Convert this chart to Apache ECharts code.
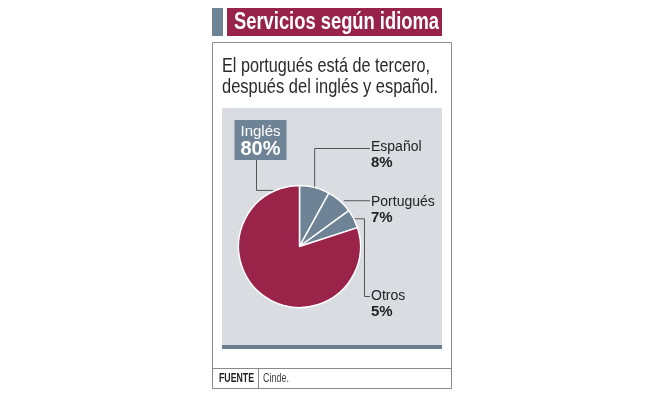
<!DOCTYPE html>
<html>
<head>
<meta charset="utf-8">
<script src="https://cdn.jsdelivr.net/npm/echarts@6/dist/echarts.min.js"></script>
<style>
  html, body { margin: 0; padding: 0; background: #fff; }
  #chart { width: 653px; height: 398px; }
</style>
</head>
<body>
<div id="chart"></div>
<script>
// datos
var idiomas = ['Español', 'Portugués', 'Otros', 'Inglés'];
var porcentajes = [8, 7, 5, 80];
var colores = ['#6f8396', '#6f8396', '#6f8396', '#9a2449'];

var titulo = 'Servicios según idioma';
var subtitulo = ['El portugués está de tercero,', 'después del inglés y español.'];
var fuente = 'Cinde.';

var FONT = "'Liberation Sans', Arial, sans-serif";
var cx = 299.5, cy = 246.5, R = 61;

// donde va cada etiqueta (x, y del texto)
var labelPos = [
  { x: 371, y: 155 },
  { x: 371, y: 210 },
  { x: 371, y: 304 },
  { x: 260.5, y: 140 }
];

// la fuente original es condensada: se comprime a lo ancho
var ctx = document.createElement('canvas').getContext('2d');
function ajustar(text, font, ancho) {
  ctx.font = font;
  return ancho / ctx.measureText(text).width;
}
function texto(x, y, text, font, ancho, color) {
  var sx = ajustar(text, font, ancho);
  return { type: 'text', x: x, y: y, scaleX: sx, style: { text: text, fill: color, font: font, verticalAlign: 'middle' } };
}

var chart = echarts.init(document.getElementById('chart'), null, { renderer: 'canvas' });

var datos = idiomas.map(function (n, i) {
  var d = { name: n, value: porcentajes[i], itemStyle: { color: colores[i] } };
  if (i === 3) {
    d.label = {
      backgroundColor: '#6f8396',
      padding: [3, 6, 1, 6],
      rich: {
        n: { fontFamily: FONT, fontSize: 15, color: '#fff', lineHeight: 17, align: 'center' },
        v: { fontFamily: FONT, fontSize: 20, fontWeight: 'bold', color: '#fff', lineHeight: 19, align: 'center' }
      }
    };
  }
  return d;
});

chart.setOption({
  animation: false,
  graphic: [
    // caja
    { type: 'rect', shape: { x: 212.5, y: 42.5, width: 239, height: 346 }, style: { fill: '#fff', stroke: '#8a8a8a', lineWidth: 1 }, z: -10 },
    // barra del titulo
    { type: 'rect', shape: { x: 212, y: 8, width: 11, height: 28 }, style: { fill: '#6f8396' } },
    { type: 'rect', shape: { x: 227, y: 8, width: 215, height: 28 }, style: { fill: '#98234a' } },
    texto(234, 23, titulo, 'bold 23px ' + FONT, 205, '#fff'),
    texto(222, 66, subtitulo[0], '21px ' + FONT, 208, '#2a2a2a'),
    texto(222, 87, subtitulo[1], '21px ' + FONT, 216, '#2a2a2a'),
    // panel gris
    { type: 'rect', shape: { x: 222, y: 108, width: 220, height: 240 }, style: { fill: '#d9dde2' }, z: -5 },
    { type: 'rect', shape: { x: 222, y: 345, width: 220, height: 4 }, style: { fill: '#6d7e8f' }, z: -4 },
    // pie de fuente
    { type: 'line', shape: { x1: 212, y1: 368.5, x2: 452, y2: 368.5 }, style: { stroke: '#8a8a8a', lineWidth: 1 } },
    { type: 'line', shape: { x1: 258.5, y1: 368, x2: 258.5, y2: 388 }, style: { stroke: '#8a8a8a', lineWidth: 1 } },
    texto(219, 378.5, 'FUENTE', 'bold 12px ' + FONT, 35, '#222'),
    texto(263, 378.5, fuente, '12px ' + FONT, 26, '#444')
  ],
  series: [{
    type: 'pie',
    center: [cx, cy],
    radius: R,
    startAngle: 90,
    clockwise: true,
    silent: true,
    data: datos,
    itemStyle: { borderColor: '#fff', borderWidth: 1.5 },
    label: {
      show: true,
      formatter: function (p) { return '{n|' + p.name + '}\n{v|' + p.value + '%}'; },
      rich: {
        n: { fontFamily: FONT, fontSize: 14, color: '#222', lineHeight: 16 },
        v: { fontFamily: FONT, fontSize: 15, fontWeight: 'bold', color: '#222', lineHeight: 16 }
      }
    },
    labelLine: { show: true, lineStyle: { color: '#555', width: 1 } },
    labelLayout: function (p) {
      var i = p.dataIndex;
      var s = p.labelLinePoints ? p.labelLinePoints[0] : [cx, cy];
      var pos = labelPos[i];
      var pts;
      if (i === 0) {
        pts = [s, [s[0], 148.5], [pos.x - 1, 148.5]];
      } else if (i === 1) {
        pts = [[s[0] + 4, s[1]], [(s[0] + pos.x) / 2, s[1]], [pos.x - 1, s[1]]];
      } else if (i === 2) {
        pts = [s, [364.5, s[1]], [364.5, 296.5], [pos.x - 1, 296.5]];
      } else {
        var dx = -24;
        var st = [cx + dx, cy - Math.sqrt(R * R - dx * dx)];
        pts = [st, [256.5, st[1]], [256.5, 160]];
      }
      return { x: pos.x, y: pos.y, align: i === 3 ? 'center' : 'left', verticalAlign: 'middle', labelLinePoints: pts };
    }
  }]
});
</script>
</body>
</html>
